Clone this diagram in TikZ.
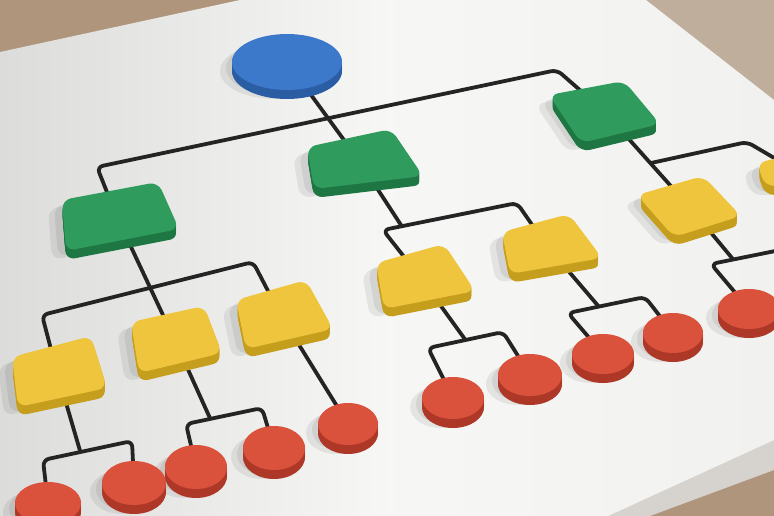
\documentclass[tikz,border=0pt]{standalone}
\usetikzlibrary{calc}
\definecolor{boardc}{HTML}{F1F1EF}
\definecolor{boardl}{HTML}{DCDCDA}
\definecolor{boardedge}{HTML}{D6D3CE}
\definecolor{wood}{HTML}{AE957B}
\definecolor{woodlt}{HTML}{BFAE9B}
\definecolor{wirec}{HTML}{242424}
\definecolor{blueT}{HTML}{3C79CA}
\definecolor{blueS}{HTML}{2A5DA3}
\definecolor{greenT}{HTML}{2F9B5D}
\definecolor{greenS}{HTML}{1E7643}
\definecolor{yelT}{HTML}{EEC53C}
\definecolor{yelS}{HTML}{C69E1E}
\definecolor{redT}{HTML}{DA513C}
\definecolor{redS}{HTML}{AE3828}
\tikzset{
  wire/.style={draw=wirec, line width=3.8pt, rounded corners=6pt, line join=round},
  shadowfill/.style={fill=black, opacity=0.07},
}
\newcommand\quadcoords[5]{%
  \coordinate (#1-1) at (#2); \coordinate (#1-2) at (#3);
  \coordinate (#1-3) at (#4); \coordinate (#1-4) at (#5);
  \coordinate (#1) at (barycentric cs:#1-1=1,#1-2=1,#1-3=1,#1-4=1);}
\newcommand\quadshadow[1]{%
  \fill[shadowfill, rounded corners=10pt] ([shift={(-14,9)}]#1-1) -- ([shift={(-14,9)}]#1-2) -- ([shift={(-14,9)}]#1-3) -- ([shift={(-14,9)}]#1-4) -- cycle;
  \fill[shadowfill, rounded corners=10pt] ([shift={(-8,6)}]#1-1) -- ([shift={(-8,6)}]#1-2) -- ([shift={(-8,6)}]#1-3) -- ([shift={(-8,6)}]#1-4) -- cycle;}
\newcommand\quadpiece[3]{%
  \foreach \d in {1,...,9}{\fill[#3, rounded corners=9pt] ([shift={(0,\d)}]#1-1) -- ([shift={(0,\d)}]#1-2) -- ([shift={(0,\d)}]#1-3) -- ([shift={(0,\d)}]#1-4) -- cycle;}
  \fill[#2, rounded corners=9pt] (#1-1) -- (#1-2) -- (#1-3) -- (#1-4) -- cycle;}
\newcommand\discshadow[3]{%
  \fill[shadowfill] ([shift={(-12,9)}]#1) ellipse [x radius=#2, y radius=#3];
  \fill[shadowfill] ([shift={(-6,6)}]#1) ellipse [x radius=#2, y radius=#3];}
\newcommand\discpiece[5]{%
  \foreach \d in {1,...,9}{\fill[#5] ([shift={(0,\d)}]#1) ellipse [x radius=#2, y radius=#3];}
  \fill[#4] (#1) ellipse [x radius=#2, y radius=#3];}
\begin{document}
\begin{tikzpicture}[x=1pt, y=-1pt]
\useasboundingbox (0,0) rectangle (774,516);
\clip (0,0) rectangle (774,516);
% table and board
\fill[wood] (0,0) rectangle (774,516);
\fill[woodlt] (640,0) -- (774,0) -- (774,110) -- cycle;
\fill[boardedge] (600,516) -- (774,436) -- (774,470) -- (650,516) -- cycle;
\begin{scope}
  \clip (0,52) -- (240,0) -- (646,0) -- (774,100) -- (774,440) -- (608,516) -- (0,516) -- cycle;
  \shade[left color=boardl, right color=boardc, middle color=boardc!60!white] (0,0) rectangle (774,516);
\end{scope}
% piece coordinates
\coordinate (root) at (287,62);
\quadcoords{gL}{62,200}{158,182}{179,229}{66,251}
\quadcoords{gM}{307,147}{391,129}{423,176}{314,189}
\quadcoords{gR}{549,95}{624,81}{660,124}{581,143}
\quadcoords{yL}{12,357}{91,336}{107,388}{18,407}
\quadcoords{yM}{131,322}{204,306}{222,353}{139,373}
\quadcoords{yR}{236,300}{306,280}{333,329}{246,349}
\quadcoords{yML}{376,263}{444,244}{475,291}{384,309}
\quadcoords{yMR}{502,232}{569,214}{602,258}{510,274}
\quadcoords{yRa}{637,195}{703,176}{741,216}{674,237}
\quadcoords{yRb}{757,163}{820,148}{840,185}{765,186}
\coordinate (rLL) at (48,503);
\coordinate (rLR) at (134,483);
\coordinate (rML) at (196,467);
\coordinate (rMR) at (274,448);
\coordinate (rR) at (348,424);
\coordinate (rM1) at (453,398);
\coordinate (rM2) at (530,375);
\coordinate (rM3) at (603,354);
\coordinate (rM4) at (673,333);
\coordinate (rR1) at (749,309);
% wire corners
\coordinate (c0L) at (97,167);  \coordinate (c0R) at (557,70);
\coordinate (c1a) at (42,315);  \coordinate (c1b) at (253,262);
\coordinate (c1c) at (383,230); \coordinate (c1d) at (517,203);
\coordinate (c2a) at (43,460);  \coordinate (c2b) at (132,441);
\coordinate (c2c) at (186,424); \coordinate (c2d) at (262,408);
\coordinate (c2e) at (428,348); \coordinate (c2f) at (503,332);
\coordinate (c2g) at (568,313); \coordinate (c2h) at (645,297);
\coordinate (c2i) at (711,264); \coordinate (offR) at (800,246);
\coordinate (cR) at (747,142);
\coordinate (jL) at ($(c2a)!0.42!(c2b)$);
\coordinate (jM) at ($(c2c)!0.32!(c2d)$);
\coordinate (jMM) at ($(c1c)!0.14!(c1d)$);
\coordinate (jM1) at ($(c2e)!0.5!(c2f)$);
\coordinate (jM2) at ($(c2g)!0.4!(c2h)$);
\coordinate (jR2) at ($(c2i)!0.25!(offR)$);
\coordinate (JR) at ($(gR)!0.55!(yRa)$);
% wires
\draw[wire] (root) -- (gM);
\draw[wire] (gL) -- (c0L) -- (c0R) -- (gR);
\draw[wire] (gL) -- (yM);
\draw[wire] (yL) -- (c1a) -- (c1b) -- (yR);
\draw[wire] (gM) -- (jMM);
\draw[wire] (yML) -- (c1c) -- (c1d) -- (yMR);
\draw[wire] (gR) -- (yRa);
\draw[wire] (JR) -- (cR) -- (yRb);
\draw[wire] (yL) -- (jL);
\draw[wire] (rLL) -- (c2a) -- (c2b) -- (rLR);
\draw[wire] (yM) -- (jM);
\draw[wire] (rML) -- (c2c) -- (c2d) -- (rMR);
\draw[wire] (yR) -- (rR);
\draw[wire] (yML) -- (jM1);
\draw[wire] (rM1) -- (c2e) -- (c2f) -- (rM2);
\draw[wire] (yMR) -- (jM2);
\draw[wire] (rM3) -- (c2g) -- (c2h) -- (rM4);
\draw[wire] (yRa) -- (jR2);
\draw[wire] (rR1) -- (c2i) -- (offR);
% shadows
\discshadow{root}{55}{28}
\foreach \q in {gL,gM,gR,yL,yM,yR,yML,yMR,yRa,yRb}{\quadshadow{\q}}
\discshadow{rLL}{33}{21}
\discshadow{rLR}{32}{22}
\discshadow{rML}{31}{22}
\discshadow{rMR}{31}{22}
\discshadow{rR}{30}{21}
\discshadow{rM1}{31}{21}
\discshadow{rM2}{32}{21}
\discshadow{rM3}{31}{20}
\discshadow{rM4}{30}{20}
\discshadow{rR1}{31}{20}
% pieces
\discpiece{root}{55}{28}{blueT}{blueS}
\foreach \q in {gL,gM,gR}{\quadpiece{\q}{greenT}{greenS}}
\foreach \q in {yL,yM,yR,yML,yMR,yRa,yRb}{\quadpiece{\q}{yelT}{yelS}}
\discpiece{rLL}{33}{21}{redT}{redS}
\discpiece{rLR}{32}{22}{redT}{redS}
\discpiece{rML}{31}{22}{redT}{redS}
\discpiece{rMR}{31}{22}{redT}{redS}
\discpiece{rR}{30}{21}{redT}{redS}
\discpiece{rM1}{31}{21}{redT}{redS}
\discpiece{rM2}{32}{21}{redT}{redS}
\discpiece{rM3}{31}{20}{redT}{redS}
\discpiece{rM4}{30}{20}{redT}{redS}
\discpiece{rR1}{31}{20}{redT}{redS}
\end{tikzpicture}
\end{document}
